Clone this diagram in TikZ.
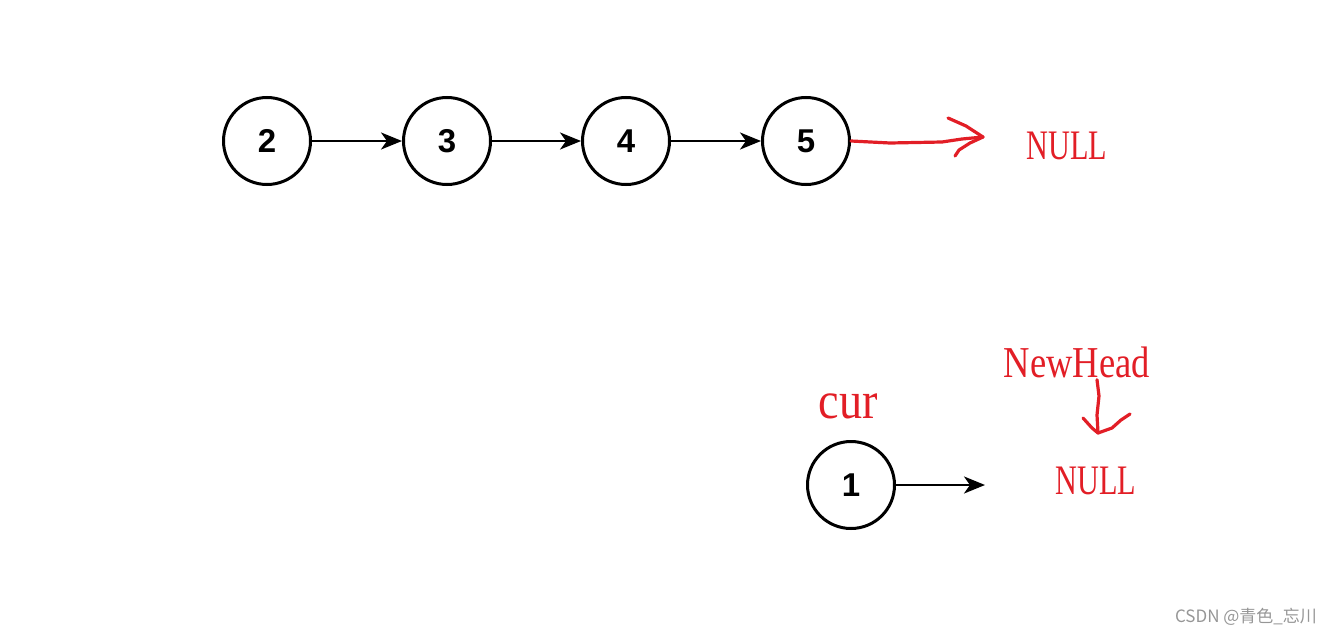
\documentclass[tikz,border=0pt]{standalone}
\usepackage{fontspec}
\setmainfont{Liberation Serif}
\setsansfont{Liberation Sans}
\newfontfamily\cjkfont{Noto Sans CJK SC}
\usetikzlibrary{arrows.meta}
\definecolor{handred}{RGB}{226,30,38}
\definecolor{markgray}{RGB}{150,150,150}

\begin{document}
\begin{tikzpicture}[x=1pt,y=-1pt]
% Styles
 \tikzstyle{noeud}=[circle,draw,line width=3pt,minimum size=87pt,inner sep=0pt,
      font=\sffamily\bfseries\fontsize{33}{33}\selectfont]
 \tikzstyle{lien}=[line width=2.6pt,-{Stealth[length=21pt,width=17pt,inset=6pt]}]
 \tikzstyle{trait}=[handred,line width=3.2pt,line cap=round,line join=round]
 \tikzstyle{note}=[handred,inner sep=0pt,font=\fontsize{42}{42}\selectfont]
 \useasboundingbox (0,0) rectangle (1338,637);
% Liste 1
 \node[noeud] (n2) at (267,141) {2};
 \node[noeud] (n3) at (447,141) {3};
 \node[noeud] (n4) at (626,141) {4};
 \node[noeud] (n5) at (806,141) {5};
 \node[note] (null1) at (1067,146) {\scalebox{0.72}[1]{NULL}};
% Liste 2
 \node[noeud] (n1) at (851,485) {1};
 \coordinate (fin1) at (985,485);
 \node[note] (cur) at (848,406) {\scalebox{1.1}[1.25]{cur}};
 \node[note] (newhead) at (1077,362) {\scalebox{0.87}[1.05]{NewHead}};
 \node[note] (null2) at (1096,481) {\scalebox{0.72}[1]{NULL}};
% Fleches
 \draw[lien] (n2) -- (n3);
 \draw[lien] (n3) -- (n4);
 \draw[lien] (n4) -- (n5);
 \draw[lien] (n1) -- (fin1);
% Fleches a main levee
 \coordinate (pointe1) at (983,137);
 \draw[trait] (n5.east) -- (890,143) -- (942,142) -- (962,139) -- (pointe1);
 \draw[trait] (948,118) -- (966,126) -- (pointe1) -- (970,143) -- (959,150) -- (955,156);
 \coordinate (pointe2) at (1098,433);
 \draw[trait] (newhead.south -| 1097,0) ++(0,2) -- (1099,396) -- (1097,415) -- (pointe2);
 \draw[trait] (1083,418) -- (1092,428) -- (pointe2) -- (1112,428) -- (1121,420) -- (1130,414);
% Filigrane
 \node[markgray,inner sep=0pt,font=\cjkfont\fontsize{17}{17}\selectfont] (filigrane)
      at (1246,617) {CSDN @青色\_忘川};
\end{tikzpicture}
\end{document}
